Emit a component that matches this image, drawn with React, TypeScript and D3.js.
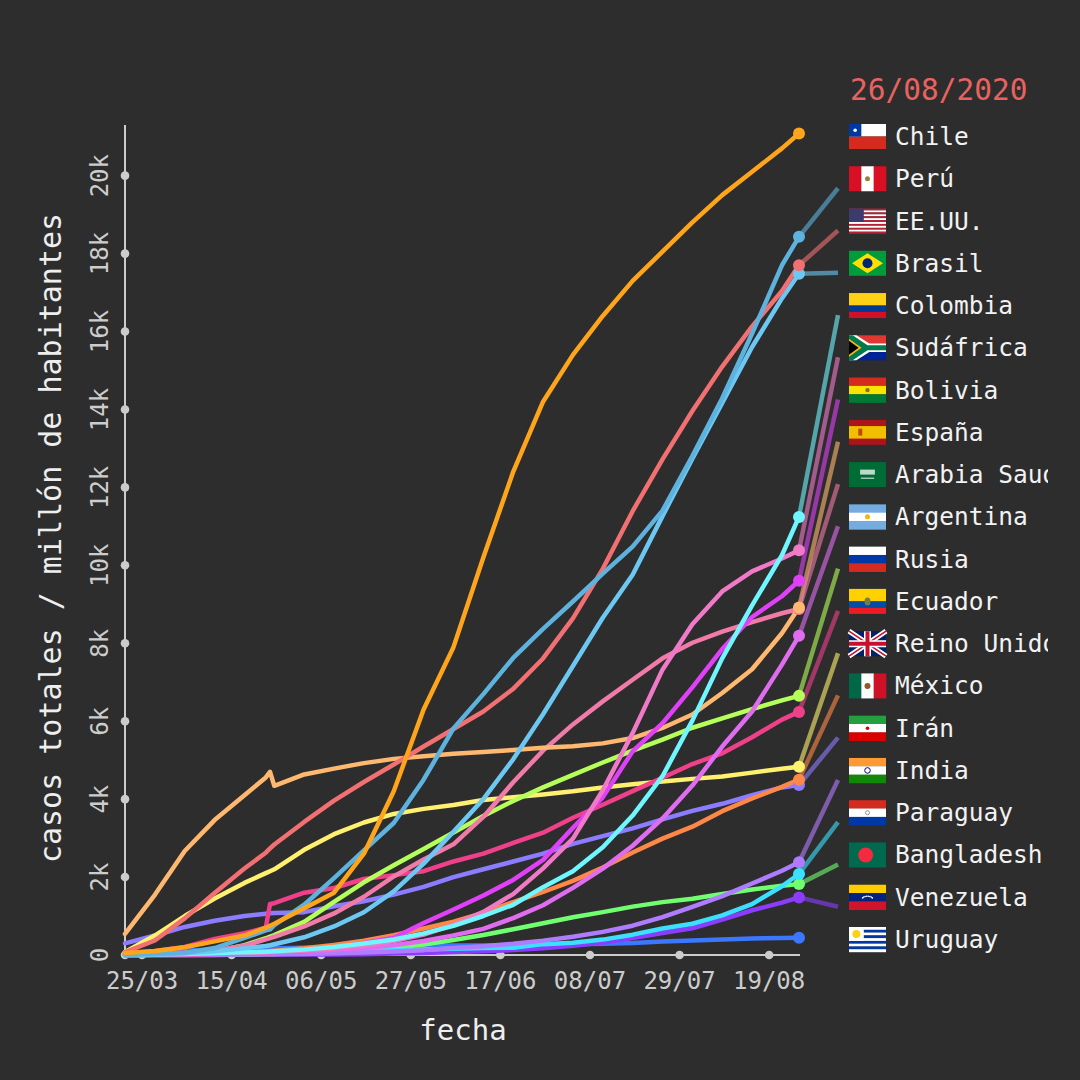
import * as d3 from 'd3'
import React from 'react'

// fechas de muestreo (semanales, con detalle a fines de abril)
const dates = ['2020-03-21', '2020-03-28', '2020-04-04', '2020-04-11', '2020-04-18', '2020-04-23', '2020-04-24', '2020-04-25',
    '2020-05-02', '2020-05-09', '2020-05-16', '2020-05-23', '2020-05-30', '2020-06-06', '2020-06-13', '2020-06-20',
    '2020-06-27', '2020-07-04', '2020-07-11', '2020-07-18', '2020-07-25', '2020-08-01', '2020-08-08', '2020-08-15',
    '2020-08-22', '2020-08-26']

const countries = ['Chile', 'Perú', 'EE.UU.', 'Brasil', 'Colombia', 'Sudáfrica', 'Bolivia', 'España', 'Arabia Saudí', 'Argentina',
    'Rusia', 'Ecuador', 'Reino Unido', 'México', 'Irán', 'India', 'Paraguay', 'Bangladesh', 'Venezuela', 'Uruguay']
const codes = ['CL', 'PE', 'US', 'BR', 'CO', 'ZA', 'BO', 'ES', 'SA', 'AR', 'RU', 'EC', 'GB', 'MX', 'IR', 'IN', 'PY', 'BD', 'VE', 'UY']
const colors = ['#ffa51c', '#5db3de', '#f26f72', '#6cc8f2', '#6ff6ff', '#f07ac8', '#e040f8', '#ffb870', '#f07aa8', '#e06cf0',
    '#b4ff5a', '#f0408a', '#fff070', '#ff8848', '#8c7cff', '#b07cff', '#3ce0ff', '#70ff70', '#8c3cff', '#3c78ff']

// casos totales por millón de habitantes
const chile = [50, 100, 200, 350, 500, 700, 750, 800, 1200, 1600, 2600, 4200, 6300, 7900, 10200, 12400, 14200, 15400, 16400, 17300, 18050, 18800, 19500, 20100, 20700, 21080]
const peru = [10, 26, 53, 179, 437, 634, 657, 768, 1290, 1972, 2685, 3388, 4498, 5816, 6695, 7623, 8371, 9071, 9788, 10480, 11403, 12805, 14286, 15948, 17700, 18430]
const usa = [76, 372, 940, 1590, 2220, 2625, 2735, 2835, 3415, 3960, 4440, 4890, 5350, 5800, 6250, 6830, 7610, 8640, 9910, 11390, 12720, 13960, 15100, 16130, 17040, 17700]
const brazil = [5, 16, 48, 97, 172, 233, 249, 275, 454, 733, 1097, 1634, 2345, 3165, 4000, 5022, 6179, 7418, 8654, 9760, 11263, 12737, 14170, 15603, 16851, 17484]
const colombia = [4, 12, 28, 49, 71, 86, 90, 96, 138, 206, 293, 396, 555, 747, 1001, 1289, 1741, 2151, 2766, 3578, 4588, 6015, 7612, 8972, 10258, 11242]
const southAfrica = [4, 20, 27, 34, 51, 67, 71, 74, 107, 159, 242, 360, 522, 775, 1108, 1563, 2223, 2987, 4228, 5694, 7323, 8488, 9330, 9844, 10175, 10384]
const bolivia = [2, 5, 13, 24, 45, 60, 69, 74, 105, 178, 306, 444, 822, 1169, 1529, 1926, 2442, 3262, 4045, 5226, 5949, 6868, 7852, 8674, 9206, 9605]
const spain = [543, 1545, 2668, 3462, 4101, 4557, 4701, 4342, 4633, 4782, 4924, 5033, 5103, 5162, 5211, 5261, 5321, 5359, 5431, 5567, 5827, 6172, 6724, 7333, 8258, 8920]
const saudi = [11, 35, 63, 116, 238, 400, 434, 468, 732, 1067, 1495, 2016, 2450, 2841, 3543, 4432, 5244, 5917, 6508, 7065, 7614, 8013, 8296, 8544, 8770, 8880]
const argentina = [3, 15, 32, 44, 63, 73, 76, 80, 100, 128, 173, 251, 359, 504, 670, 947, 1278, 1722, 2216, 2804, 3503, 4349, 5350, 6249, 7452, 8191]
const russia = [2, 9, 32, 93, 252, 430, 470, 511, 850, 1362, 1865, 2302, 2718, 3144, 3565, 3954, 4302, 4623, 4939, 5246, 5529, 5832, 6071, 6311, 6533, 6650]
const ecuador = [30, 104, 207, 412, 560, 700, 1310, 1330, 1600, 1720, 1950, 2050, 2150, 2400, 2600, 2877, 3140, 3521, 3857, 4206, 4548, 4900, 5177, 5588, 6041, 6238]
const uk = [80, 500, 1000, 1450, 1850, 2100, 2150, 2200, 2700, 3100, 3400, 3620, 3750, 3850, 3980, 4050, 4120, 4200, 4300, 4380, 4450, 4520, 4580, 4680, 4780, 4830]
const mexico = [2, 7, 15, 33, 58, 90, 100, 107, 171, 260, 366, 511, 679, 854, 1080, 1359, 1617, 1903, 2243, 2629, 2987, 3294, 3692, 4016, 4315, 4500]
const iran = [300, 500, 720, 880, 1000, 1060, 1070, 1080, 1100, 1250, 1380, 1550, 1750, 2000, 2200, 2400, 2600, 2850, 3050, 3250, 3480, 3700, 3880, 4100, 4300, 4360]
const india = [0, 1, 2, 6, 11, 17, 18, 20, 28, 46, 66, 91, 125, 179, 224, 287, 369, 470, 594, 752, 970, 1233, 1512, 1834, 2162, 2380]
const paraguay = [3, 8, 16, 18, 29, 30, 31, 31, 52, 79, 103, 121, 138, 159, 181, 187, 279, 317, 395, 522, 682, 803, 1015, 1307, 1763, 2080]
const bangladesh = [0, 0, 0, 3, 13, 23, 25, 28, 53, 89, 122, 195, 271, 383, 512, 660, 813, 969, 1100, 1242, 1357, 1443, 1564, 1679, 1777, 1819]
const venezuela = [3, 4, 6, 6, 8, 11, 11, 11, 12, 14, 18, 36, 53, 76, 99, 126, 175, 238, 323, 434, 563, 685, 909, 1148, 1343, 1478]
const uruguay = [32, 79, 115, 136, 149, 156, 161, 172, 187, 205, 213, 222, 237, 244, 245, 252, 265, 279, 290, 307, 346, 369, 396, 424, 435, 440]

const series = [chile, peru, usa, brazil, colombia, southAfrica, bolivia, spain, saudi, argentina,
    russia, ecuador, uk, mexico, iran, india, paraguay, bangladesh, venezuela, uruguay]

const xTicks = ['2020-03-25', '2020-04-15', '2020-05-06', '2020-05-27', '2020-06-17', '2020-07-08', '2020-07-29', '2020-08-19']
const yTicks = [0, 2000, 4000, 6000, 8000, 10000, 12000, 14000, 16000, 18000, 20000]
const title = '26/08/2020'

const FONT = '"DejaVu Sans Mono", monospace'
const BG = '#2d2d2d'
const AXIS = '#cccccc'

const parse = d3.timeParse('%Y-%m-%d')
const fmtDate = d3.timeFormat('%d/%m')
const fmtY = d3.format('~s')

const x = d3.scaleTime()
    .domain([parse(dates[0]) as Date, parse(dates[dates.length - 1]) as Date])
    .range([125, 799])
const y = d3.scaleLinear().domain([0, 21300]).range([955, 125])
const row = d3.scaleLinear().domain([0, countries.length - 1]).range([136, 939])

const line = d3.line<number>()
    .x((_, i) => x(parse(dates[i]) as Date))
    .y(v => y(v))

const Flag = ({ code, fx, fy }: { code: string, fx: number, fy: number }) => {
    const w = 37, h = 25
    const hz = (cols: string[]) => cols.map((c, i) =>
        <rect key={i} x={0} y={i * h / cols.length} width={w} height={h / cols.length + 0.3} fill={c} />)
    const vt = (cols: string[]) => cols.map((c, i) =>
        <rect key={i} x={i * w / cols.length} y={0} width={w / cols.length + 0.3} height={h} fill={c} />)
    let body: any = null
    switch (code) {
        case 'CL':
            body = <>
                <rect width={w} height={h / 2} fill="#fff" />
                <rect y={h / 2} width={w} height={h / 2} fill="#d52b1e" />
                <rect width={w / 3} height={h / 2} fill="#0039a6" />
                <circle cx={w / 6} cy={h / 4} r={1.8} fill="#fff" />
            </>
            break
        case 'PE':
            body = <>{vt(['#d91023', '#fff', '#d91023'])}<circle cx={w / 2} cy={h / 2} r={2.5} fill="#9a7d3a" /></>
            break
        case 'US': {
            const st = d3.range(13).map(i =>
                <rect key={i} y={i * h / 13} width={w} height={h / 13 + 0.2} fill={i % 2 ? '#fff' : '#b22234'} />)
            body = <>{st}<rect width={w * 0.4} height={h * 7 / 13} fill="#3c3b6e" /></>
            break
        }
        case 'BR':
            body = <>
                <rect width={w} height={h} fill="#009c3b" />
                <polygon points={`3,${h / 2} ${w / 2},2.5 ${w - 3},${h / 2} ${w / 2},${h - 2.5}`} fill="#ffdf00" />
                <circle cx={w / 2} cy={h / 2} r={5} fill="#002776" />
            </>
            break
        case 'CO':
            body = <>
                <rect width={w} height={h / 2} fill="#fcd116" />
                <rect y={h / 2} width={w} height={h / 4} fill="#003893" />
                <rect y={h * 3 / 4} width={w} height={h / 4} fill="#ce1126" />
            </>
            break
        case 'ZA':
            body = <>
                <rect width={w} height={h / 2} fill="#de3831" />
                <rect y={h / 2} width={w} height={h / 2} fill="#002395" />
                <polygon points={`0,0 ${w * 0.2},0 ${w * 0.55},${h * 0.33} ${w},${h * 0.33} ${w},${h * 0.67} ${w * 0.55},${h * 0.67} ${w * 0.2},${h} 0,${h}`} fill="#fff" />
                <polygon points={`0,0 ${w * 0.1},0 ${w * 0.5},${h * 0.4} ${w},${h * 0.4} ${w},${h * 0.6} ${w * 0.5},${h * 0.6} ${w * 0.1},${h} 0,${h}`} fill="#007a4d" />
                <polygon points={`0,${h * 0.14} ${w * 0.34},${h / 2} 0,${h * 0.86}`} fill="#ffb612" />
                <polygon points={`0,${h * 0.22} ${w * 0.26},${h / 2} 0,${h * 0.78}`} fill="#000" />
            </>
            break
        case 'BO':
            body = <>{hz(['#d52b1e', '#f9e300', '#007934'])}<circle cx={w / 2} cy={h / 2} r={2.2} fill="#8a6d2f" /></>
            break
        case 'ES':
            body = <>
                <rect width={w} height={h} fill="#aa151b" />
                <rect y={h / 4} width={w} height={h / 2} fill="#f1bf00" />
                <rect x={w * 0.25} y={h * 0.35} width={4} height={7} fill="#ad1519" opacity={0.7} />
            </>
            break
        case 'SA':
            body = <>
                <rect width={w} height={h} fill="#006c35" />
                <rect x={w * 0.3} y={h * 0.3} width={w * 0.4} height={h * 0.2} fill="#fff" opacity={0.75} />
                <rect x={w * 0.32} y={h * 0.62} width={w * 0.36} height={1.2} fill="#fff" opacity={0.75} />
            </>
            break
        case 'AR':
            body = <>{hz(['#74acdf', '#fff', '#74acdf'])}<circle cx={w / 2} cy={h / 2} r={2.5} fill="#f6b40e" /></>
            break
        case 'RU':
            body = <>{hz(['#fff', '#0039a6', '#d52b1e'])}</>
            break
        case 'EC':
            body = <>
                <rect width={w} height={h / 2} fill="#ffd100" />
                <rect y={h / 2} width={w} height={h / 4} fill="#034ea2" />
                <rect y={h * 3 / 4} width={w} height={h / 4} fill="#ed1c24" />
                <ellipse cx={w / 2} cy={h / 2} rx={3} ry={4} fill="#6f7f4a" />
            </>
            break
        case 'GB':
            body = <>
                <rect width={w} height={h} fill="#012169" />
                <path d={`M0,0L${w},${h}M${w},0L0,${h}`} stroke="#fff" strokeWidth={5} />
                <path d={`M0,0L${w},${h}M${w},0L0,${h}`} stroke="#c8102e" strokeWidth={1.6} />
                <path d={`M${w / 2},0V${h}M0,${h / 2}H${w}`} stroke="#fff" strokeWidth={7} />
                <path d={`M${w / 2},0V${h}M0,${h / 2}H${w}`} stroke="#c8102e" strokeWidth={4} />
            </>
            break
        case 'MX':
            body = <>{vt(['#006847', '#fff', '#ce1126'])}<circle cx={w / 2} cy={h / 2} r={3} fill="#8c5a2b" /></>
            break
        case 'IR':
            body = <>{hz(['#239f40', '#fff', '#da0000'])}<circle cx={w / 2} cy={h / 2} r={1.8} fill="#da0000" /></>
            break
        case 'IN':
            body = <>{hz(['#ff9933', '#fff', '#138808'])}<circle cx={w / 2} cy={h / 2} r={2.8} fill="none" stroke="#000080" strokeWidth={1} /></>
            break
        case 'PY':
            body = <>{hz(['#d52b1e', '#fff', '#0038a8'])}<circle cx={w / 2} cy={h / 2} r={2} fill="none" stroke="#777" strokeWidth={0.8} /></>
            break
        case 'BD':
            body = <>
                <rect width={w} height={h} fill="#006a4e" />
                <circle cx={w * 0.45} cy={h / 2} r={h * 0.3} fill="#f42a41" />
            </>
            break
        case 'VE':
            body = <>
                {hz(['#ffcc00', '#00247d', '#cf142b'])}
                {d3.range(8).map(i => {
                    const a = Math.PI * (0.2 + 0.6 * i / 7)
                    return <circle key={'s' + i} cx={w / 2 - Math.cos(a) * 6} cy={h * 0.62 - Math.sin(a) * 4} r={0.8} fill="#fff" />
                })}
            </>
            break
        case 'UY': {
            const st = d3.range(9).map(i =>
                <rect key={i} y={i * h / 9} width={w} height={h / 9 + 0.2} fill={i % 2 ? '#0038a8' : '#fff'} />)
            body = <>
                {st}
                <rect width={w * 0.4} height={h * 5 / 9} fill="#fff" />
                <circle cx={w * 0.2} cy={h * 5 / 18} r={4} fill="#fcd116" />
            </>
            break
        }
    }
    return <g transform={`translate(${fx},${fy})`}>{body}</g>
}

const App = () => {
    const n = countries.length
    const xEnd = x(parse(dates[dates.length - 1]) as Date)
    const order = d3.range(n).reverse()
    return (
        <svg width={1080} height={1080} viewBox="0 0 1080 1080"
            style={{ position: 'absolute', left: 0, top: 0, background: BG }} fontFamily={FONT}>
            <defs>
                <clipPath id="legend-clip">
                    <rect x={840} y={0} width={208} height={1080} />
                </clipPath>
            </defs>
            <rect width={1080} height={1080} fill={BG} />

            {/* ejes */}
            <line x1={125} x2={125} y1={125} y2={y(0)} stroke={AXIS} strokeWidth={2} />
            <line x1={125} x2={800} y1={y(0)} y2={y(0)} stroke={AXIS} strokeWidth={2} />
            {yTicks.map(t => (
                <g key={t}>
                    <circle cx={125} cy={y(t)} r={4.3} fill={AXIS} />
                    <text transform={`translate(108,${y(t)}) rotate(-90)`} textAnchor="middle"
                        fontSize={24} fill={AXIS}>{fmtY(t)}</text>
                </g>
            ))}
            {xTicks.map(t => {
                const px = x(parse(t) as Date)
                return (
                    <g key={t}>
                        <circle cx={px} cy={y(0)} r={4.3} fill={AXIS} />
                        <text x={px} y={989} textAnchor="middle" fontSize={24} fill={AXIS}>{fmtDate(parse(t) as Date)}</text>
                    </g>
                )
            })}
            <text transform="translate(61,538) rotate(-90)" textAnchor="middle" fontSize={30} fill="#eeeeee">
                casos totales / millón de habitantes
            </text>
            <text x={463} y={1040} textAnchor="middle" fontSize={29} fill="#eeeeee">fecha</text>

            {/* conectores hacia la leyenda */}
            {d3.range(1, n - 1).map(i => (
                <line key={'c' + i} x1={xEnd} y1={y(series[i][series[i].length - 1])} x2={838} y2={row(i) + 10}
                    stroke={colors[i]} strokeOpacity={0.6} strokeWidth={4.5} />
            ))}

            {/* series */}
            {order.map(i => (
                <path key={'l' + i} d={line(series[i]) as string} fill="none" stroke={colors[i]}
                    strokeWidth={4.5} strokeLinejoin="round" strokeLinecap="round" />
            ))}
            {order.map(i => (
                <circle key={'p' + i} cx={xEnd} cy={y(series[i][series[i].length - 1])} r={6} fill={colors[i]} />
            ))}

            {/* leyenda */}
            <text x={850} y={100} fontSize={29.5} fill="#e8635f">{title}</text>
            <g clipPath="url(#legend-clip)">
                {countries.map((c, i) => (
                    <g key={c}>
                        <Flag code={codes[i]} fx={849} fy={row(i) - 12} />
                        <text x={895} y={row(i) + 9} fontSize={24.5} fill="#f2f2f2">{c}</text>
                    </g>
                ))}
            </g>
        </svg>
    )
}

export default App
